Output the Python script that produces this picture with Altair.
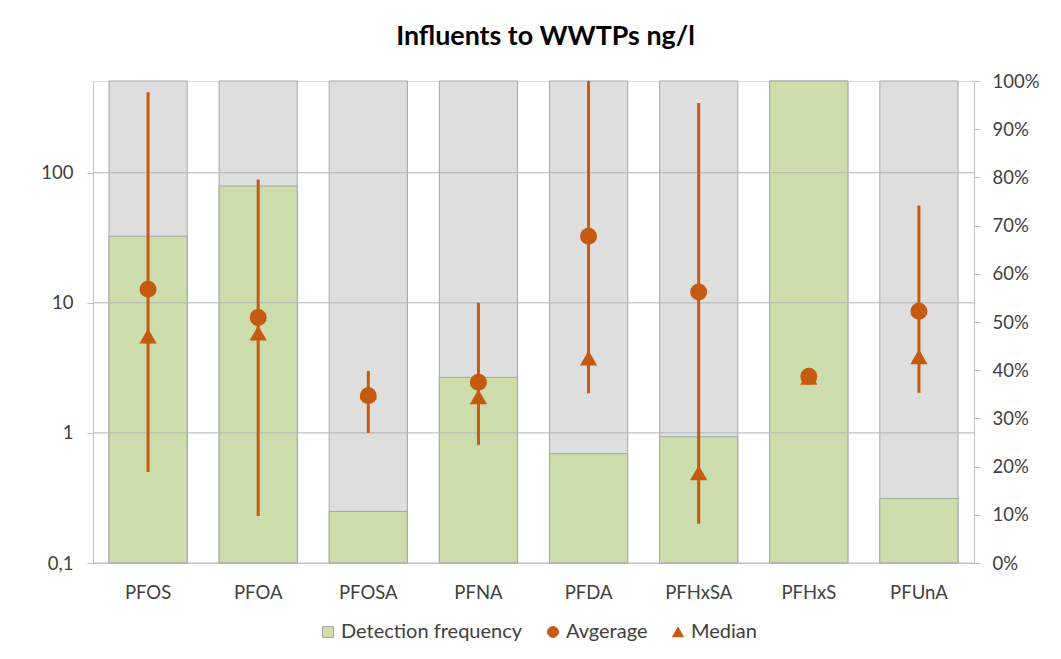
import altair as alt
import pandas as pd

categories = ["PFOS", "PFOA", "PFOSA", "PFNA", "PFDA", "PFHxSA", "PFHxS", "PFUnA"]
detection = [0.678, 0.782, 0.107, 0.385, 0.227, 0.262, 1.0, 0.134]
average = [12.7, 7.7, 1.93, 2.45, 32.5, 12.1, 2.72, 8.6]
median = [5.5, 5.8, 2.05, 1.88, 3.73, 0.49, 2.65, 3.82]
minimum = [0.50, 0.23, 1.0, 0.81, 2.02, 0.20, 2.72, 2.03]
maximum = [415, 88.7, 3.0, 10.0, 507, 343, 2.72, 56]

log_ticks = [0.1, 1, 10, 100]
pct_ticks = [0, 0.1, 0.2, 0.3, 0.4, 0.5, 0.6, 0.7, 0.8, 0.9, 1.0]
series_domain = ["Detection frequency", "Avgerage", "Median"]

df = pd.DataFrame({
    "substance": categories,
    "detection": detection,
    "average": average,
    "median": median,
    "minimum": minimum,
    "maximum": maximum,
})
grid_df = pd.DataFrame({"v": log_ticks})

FONT = "Lato"
TXT = "#404040"
ORANGE = "#C55A11"
GREEN = "#CDDCAB"
GRAYBAR = "#DEDEDE"
EDGE = "#A6A6A6"
GRID = "#B4B4B4"
AXFS = 18.5

color_scale = alt.Scale(domain=series_domain, range=[GREEN, ORANGE, ORANGE])
stroke_scale = alt.Scale(domain=series_domain, range=[EDGE, ORANGE, ORANGE])
shape_scale = alt.Scale(domain=series_domain, range=["square", "circle", "triangle-up"])

legend = alt.Legend(
    title=None, orient="none", direction="horizontal", legendX=225, legendY=541,
    labelFont=FONT, labelFontSize=20, labelColor=TXT, symbolSize=120,
    columnPadding=20, labelOffset=3, symbolStrokeWidth=1, labelLimit=500,
)

x_enc = alt.X(
    "substance:N", sort=categories,
    scale=alt.Scale(paddingInner=0.29, paddingOuter=0.145),
    axis=alt.Axis(title=None, labelAngle=0, domain=False, ticks=False,
                  labelPadding=20, labelFont=FONT, labelFontSize=AXFS, labelColor=TXT),
)

pct_scale = alt.Scale(domain=[0, 1], nice=False, zero=True)
right_axis = alt.Axis(
    orient="right", values=pct_ticks, format=".0%", title=None, grid=False,
    domainColor="#BFBFBF", tickColor="#BFBFBF", tickSize=6, labelPadding=12,
    labelFont=FONT, labelFontSize=AXFS, labelColor=TXT,
)

gray = alt.Chart(df).transform_calculate(full="1").mark_bar(
    fill=GRAYBAR, stroke=EDGE, strokeWidth=1
).encode(
    x=x_enc,
    y=alt.Y("full:Q", scale=pct_scale, axis=right_axis),
)

green = alt.Chart(df).transform_calculate(series="'Detection frequency'").mark_bar(
    strokeWidth=1
).encode(
    x=x_enc,
    y=alt.Y("detection:Q", scale=pct_scale, axis=right_axis),
    color=alt.Color("series:N", scale=color_scale, legend=legend),
    stroke=alt.Stroke("series:N", scale=stroke_scale, legend=legend),
)

bars = alt.layer(gray, green)

log_scale = alt.Scale(type="log", domain=[0.1, 507], nice=False)
left_axis = alt.Axis(
    orient="left", values=log_ticks, title=None, grid=False,
    labelExpr="datum.value == 0.1 ? '0,1' : format(datum.value, 'd')",
    domainColor="#BFBFBF", tickColor="#BFBFBF", tickSize=6, labelPadding=14,
    labelFont=FONT, labelFontSize=AXFS, labelColor=TXT,
)

grid = alt.Chart(grid_df).mark_rule(color=GRID, strokeWidth=1).encode(
    y=alt.Y("v:Q", scale=log_scale, axis=left_axis),
)

err = alt.Chart(df).mark_rule(color=ORANGE, strokeWidth=3).encode(
    x=x_enc,
    y=alt.Y("minimum:Q", scale=log_scale, axis=left_axis),
    y2="maximum:Q",
)

med = alt.Chart(df).transform_calculate(series="'Median'").mark_point(
    filled=True, size=190, opacity=1
).encode(
    x=x_enc,
    y=alt.Y("median:Q", scale=log_scale, axis=left_axis),
    color=alt.Color("series:N", scale=color_scale, legend=legend),
    stroke=alt.Stroke("series:N", scale=stroke_scale, legend=legend),
    shape=alt.Shape("series:N", scale=shape_scale, legend=legend),
)

avg = alt.Chart(df).transform_calculate(series="'Avgerage'").mark_point(
    filled=True, size=225, opacity=1
).encode(
    x=x_enc,
    y=alt.Y("average:Q", scale=log_scale, axis=left_axis),
    color=alt.Color("series:N", scale=color_scale, legend=legend),
    stroke=alt.Stroke("series:N", scale=stroke_scale, legend=legend),
    shape=alt.Shape("series:N", scale=shape_scale, legend=legend),
)

points = alt.layer(grid, err, med, avg)

chart = alt.layer(bars, points).resolve_scale(y="independent").properties(
    width=881,
    height=482,
    autosize=alt.AutoSizeParams(type="none"),
    padding={"left": 85, "top": 73, "right": 70, "bottom": 85},
    title=alt.Title(
        "Influents to WWTPs ng/l", font=FONT, fontSize=26.8, fontWeight="bold",
        color="#000000", anchor="middle", offset=21, dx=12,
    ),
).configure_view(stroke=None).configure(background="white")

chart.save("out.html", embed_options={"renderer": "svg", "actions": False})
